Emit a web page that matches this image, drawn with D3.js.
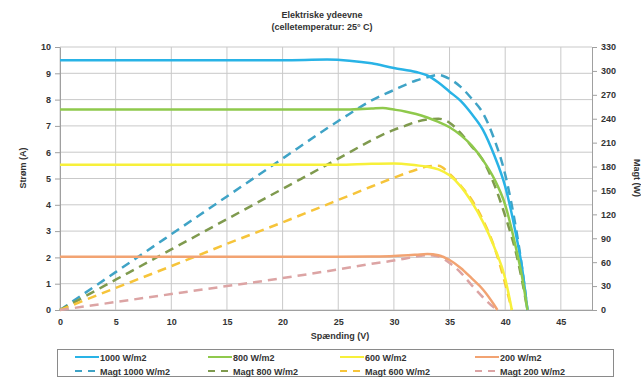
<!DOCTYPE html>
<html>
<head>
<meta charset="utf-8">
<script src="https://cdn.jsdelivr.net/npm/d3@7"></script>
<style>
  html, body { margin: 0; padding: 0; background: #fff; }
  svg { display: block; font-family: "Liberation Sans", Arial, sans-serif; }
</style>
</head>
<body>
<svg id="chart" width="641" height="378"></svg>
<script>
// strøm (A) mod spænding (V)
const v1000 = [0, 5, 10, 15, 20, 24, 26, 28, 30, 32, 33, 34, 35, 36, 37, 38, 39, 40, 41, 41.5, 42];
const i1000 = [9.5, 9.5, 9.5, 9.5, 9.5, 9.52, 9.48, 9.38, 9.2, 9.05, 8.92, 8.65, 8.3, 7.95, 7.45, 6.85, 5.9, 4.7, 2.8, 1.65, 0];
const p1000 = [0, 47.5, 95, 142.5, 190, 228, 246, 263, 276, 288, 292, 295, 290, 280, 265, 247, 215, 170, 100, 55, 0];

const v800 = [0, 5, 10, 15, 20, 25, 28, 29, 30, 31, 32, 33, 34, 35, 36, 37, 38, 39, 40, 41, 41.5, 42];
const i800 = [7.62, 7.62, 7.62, 7.62, 7.62, 7.62, 7.66, 7.68, 7.62, 7.55, 7.45, 7.32, 7.15, 6.95, 6.65, 6.25, 5.7, 5.0, 4.0, 2.3, 1.3, 0];
const p800 = [0, 38, 76, 114, 152, 190, 213, 220, 226, 231, 236, 239, 240, 235, 222, 205, 188, 158, 118, 70, 38, 0];

const v600 = [0, 5, 10, 15, 20, 25, 28, 30, 32, 33, 34, 35, 36, 37, 38, 39, 40, 40.6];
const i600 = [5.52, 5.52, 5.52, 5.52, 5.52, 5.52, 5.56, 5.57, 5.5, 5.45, 5.35, 5.12, 4.7, 4.1, 3.35, 2.41, 1.2, 0];
const p600 = [0, 27.6, 55, 83, 110, 138, 155, 166, 176, 180, 181, 171, 156, 138, 113, 80, 33, 0];

const v200 = [0, 5, 10, 15, 20, 25, 28, 30, 32, 33, 34, 35, 36, 37, 38, 39, 39.3];
const i200 = [2.02, 2.02, 2.02, 2.02, 2.02, 2.02, 2.03, 2.05, 2.1, 2.13, 2.08, 1.9, 1.6, 1.2, 0.78, 0.2, 0];
const p200 = [0, 10, 20, 30, 40, 51, 58, 62, 67, 69, 67, 59, 47, 31, 16, 3, 0];

const xTicks = [0, 5, 10, 15, 20, 25, 30, 35, 40, 45];
const yTicks = [0, 1, 2, 3, 4, 5, 6, 7, 8, 9, 10];
const y2Ticks = [0, 30, 60, 90, 120, 150, 180, 210, 240, 270, 300, 330];

const series = [
  { name: '1000 W/m2', v: v1000, y: i1000, axis: 'i', color: '#29b3e6', dash: null },
  { name: '800 W/m2', v: v800, y: i800, axis: 'i', color: '#8fc94c', dash: null },
  { name: '600 W/m2', v: v600, y: i600, axis: 'i', color: '#f7f03a', dash: null },
  { name: '200 W/m2', v: v200, y: i200, axis: 'i', color: '#f2a372', dash: null },
  { name: 'Magt 1000 W/m2', v: v1000, y: p1000, axis: 'p', color: '#3fa3c6', dash: '9,6' },
  { name: 'Magt 800 W/m2', v: v800, y: p800, axis: 'p', color: '#7f9a4e', dash: '9,6' },
  { name: 'Magt 600 W/m2', v: v600, y: p600, axis: 'p', color: '#f6c43a', dash: '9,6' },
  { name: 'Magt 200 W/m2', v: v200, y: p200, axis: 'p', color: '#dca4a4', dash: '9,6' }
];

const svg = d3.select('#chart');
const plot = { left: 60, right: 592, top: 47, bottom: 310 };

const x = d3.scaleLinear().domain([0, 47.8]).range([plot.left, plot.right]);
const y = d3.scaleLinear().domain([0, 10]).range([plot.bottom, plot.top]);
const y2 = d3.scaleLinear().domain([0, 330]).range([plot.bottom, plot.top]);

const textColor = '#333';
const gridColor = '#c9c9c9';

// titel
svg.append('text')
  .attr('x', 322).attr('y', 18)
  .attr('text-anchor', 'middle')
  .style('font-size', '9px').style('font-weight', 'bold').attr('fill', textColor)
  .text('Elektriske ydeevne');
svg.append('text')
  .attr('x', 322).attr('y', 30)
  .attr('text-anchor', 'middle')
  .style('font-size', '9px').style('font-weight', 'bold').attr('fill', textColor)
  .text('(celletemperatur: 25° C)');

// gitter
svg.append('g')
  .selectAll('line')
  .data(yTicks)
  .join('line')
  .attr('x1', plot.left).attr('x2', plot.right)
  .attr('y1', (d) => y(d)).attr('y2', (d) => y(d))
  .attr('stroke', gridColor).attr('stroke-width', 1);
svg.append('g')
  .selectAll('line')
  .data(xTicks)
  .join('line')
  .attr('x1', (d) => x(d)).attr('x2', (d) => x(d))
  .attr('y1', plot.top).attr('y2', plot.bottom)
  .attr('stroke', gridColor).attr('stroke-width', 1);

// akser
const styleAxis = (g) => {
  g.select('.domain').attr('stroke', '#a0a0a0');
  g.selectAll('.tick line').attr('stroke', '#a0a0a0');
  g.selectAll('.tick text')
    .attr('fill', textColor)
    .style('font-size', '9px')
    .style('font-weight', 'bold')
    .style('font-family', '"Liberation Sans", Arial, sans-serif');
};

svg.append('g')
  .attr('transform', `translate(0, ${plot.bottom})`)
  .call(d3.axisBottom(x).tickValues(xTicks).tickSize(0).tickPadding(9))
  .call(styleAxis);

svg.append('g')
  .attr('transform', `translate(${plot.left}, 0)`)
  .call(d3.axisLeft(y).tickValues(yTicks).tickSize(5).tickSizeOuter(0).tickPadding(4))
  .call(styleAxis);

svg.append('g')
  .attr('transform', `translate(${plot.right}, 0)`)
  .call(d3.axisRight(y2).tickValues(y2Ticks).tickSize(5).tickSizeOuter(0).tickPadding(4))
  .call(styleAxis);

// aksetitler
svg.append('text')
  .attr('x', 340).attr('y', 339)
  .attr('text-anchor', 'middle')
  .style('font-size', '9px').style('font-weight', 'bold').attr('fill', textColor)
  .text('Spænding (V)');
svg.append('text')
  .attr('transform', 'translate(26, 168) rotate(-90)')
  .attr('text-anchor', 'middle')
  .style('font-size', '9px').style('font-weight', 'bold').attr('fill', textColor)
  .text('Strøm (A)');
svg.append('text')
  .attr('transform', 'translate(634, 178) rotate(90)')
  .attr('text-anchor', 'middle')
  .style('font-size', '9px').style('font-weight', 'bold').attr('fill', textColor)
  .text('Magt (W)');

// kurver
const drawOrder = [4, 5, 6, 7, 0, 1, 2, 3];
drawOrder.forEach((k) => {
  const s = series[k];
  const ys = s.axis === 'i' ? y : y2;
  const line = d3.line()
    .x((d, j) => x(s.v[j]))
    .y((d) => ys(d))
    .curve(d3.curveMonotoneX);
  svg.append('path')
    .datum(s.y)
    .attr('fill', 'none')
    .attr('stroke', s.color)
    .attr('stroke-width', 2.5)
    .attr('stroke-dasharray', s.dash)
    .attr('d', line);
});

// forklaring
svg.append('rect')
  .attr('x', 57.5).attr('y', 349.5)
  .attr('width', 556).attr('height', 27)
  .attr('fill', '#fff')
  .attr('stroke', '#8a8a8a');

const legendCols = [75, 208, 340, 475];
const legendRows = [357, 371];
series.forEach((s, k) => {
  const cx = legendCols[k % 4];
  const cy = legendRows[Math.floor(k / 4)];
  svg.append('line')
    .attr('x1', cx).attr('x2', cx + 24)
    .attr('y1', cy).attr('y2', cy)
    .attr('stroke', s.color)
    .attr('stroke-width', 2)
    .attr('stroke-dasharray', s.dash ? '7,6' : null);
  svg.append('text')
    .attr('x', cx + 25).attr('y', cy + 3.5)
    .style('font-size', '9px').style('font-weight', 'bold').attr('fill', textColor)
    .text(s.name);
});
</script>
</body>
</html>
